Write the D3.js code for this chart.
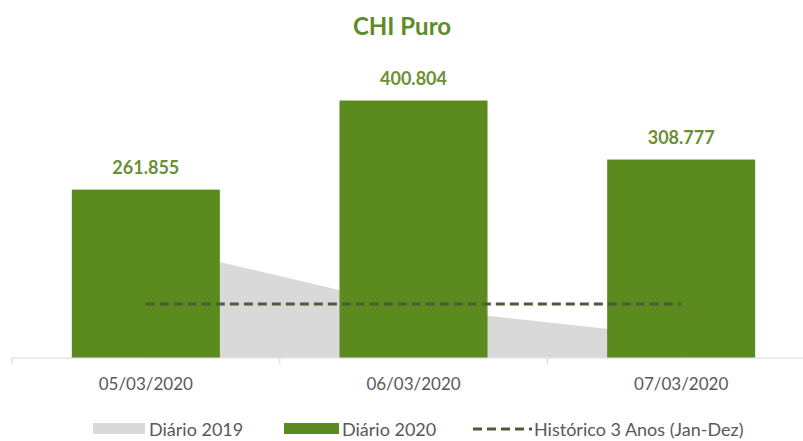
<!DOCTYPE html>
<html>
<head>
<meta charset="utf-8">
<script src="https://cdn.jsdelivr.net/npm/d3@7"></script>
<style>
  html, body { margin: 0; padding: 0; background: #fff; }
  svg { display: block; }
</style>
</head>
<body>
<div id="chart"></div>
<script>
// ── Data ──
var CATEGORIES = ['05/03/2020', '06/03/2020', '07/03/2020'];
var DIARIO_2020 = [261.855, 400.804, 308.777];
var DIARIO_2019 = [176, 78, 32];
var HISTORICO = [83.5, 83.5, 83.5];
var LABELS_2020 = ['261.855', '400.804', '308.777'];

// ── Style ──
var W = 803, H = 441;
var GREEN = '#5b8a1e';
var LABEL_GREEN = '#6b8f35';
var GRAY = '#d9d9d9';
var DASH = '#4e5a38';
var TEXT = '#595959';
var FONT = 'Lato, "Open Sans", sans-serif';

var svg = d3.select('#chart').append('svg')
  .attr('width', W)
  .attr('height', H);

var x = d3.scaleBand()
  .domain(CATEGORIES)
  .range([12, 815])
  .paddingInner(0.447)
  .paddingOuter(0.2235);

var y = d3.scaleLinear()
  .domain([0, 450])
  .range([357.5, 69]);

function cx(d) { return x(d) + x.bandwidth() / 2; }

// Title
svg.append('text')
  .attr('x', 402)
  .attr('y', 35)
  .attr('text-anchor', 'middle')
  .attr('font-family', FONT)
  .attr('font-weight', 700)
  .attr('font-size', '24px')
  .attr('fill', '#5e8a2a')
  .text('CHI Puro');

// Diário 2019 area (behind bars)
var area = d3.area()
  .x(function (d, i) { return cx(CATEGORIES[i]); })
  .y0(y(0))
  .y1(function (d) { return y(d); });

svg.append('path')
  .datum(DIARIO_2019)
  .attr('d', area)
  .attr('fill', GRAY);

// Axis line + ticks at band edges
svg.append('line')
  .attr('x1', 12).attr('x2', W)
  .attr('y1', y(0) + 0.5).attr('y2', y(0) + 0.5)
  .attr('stroke', GRAY)
  .attr('stroke-width', 1.2);

var tickXs = [12].concat(CATEGORIES.slice(1).map(function (c) {
  return x(c) - x.step() * x.paddingInner() / 2;
}));
svg.selectAll('.tick-mark')
  .data(tickXs)
  .join('line')
  .attr('class', 'tick-mark')
  .attr('x1', function (d) { return d; })
  .attr('x2', function (d) { return d; })
  .attr('y1', y(0))
  .attr('y2', y(0) + 6)
  .attr('stroke', GRAY)
  .attr('stroke-width', 1.2);

// Diário 2020 bars
svg.selectAll('.bar')
  .data(DIARIO_2020)
  .join('rect')
  .attr('class', 'bar')
  .attr('x', function (d, i) { return x(CATEGORIES[i]); })
  .attr('width', x.bandwidth())
  .attr('y', function (d) { return y(d); })
  .attr('height', function (d) { return y(0) - y(d); })
  .attr('fill', GREEN);

// Histórico dashed line
var line = d3.line()
  .x(function (d, i) { return cx(CATEGORIES[i]); })
  .y(function (d) { return y(d); });

svg.append('path')
  .datum(HISTORICO)
  .attr('d', line)
  .attr('fill', 'none')
  .attr('stroke', DASH)
  .attr('stroke-width', 3)
  .attr('stroke-dasharray', '9,5');

// Value labels
svg.selectAll('.val')
  .data(DIARIO_2020)
  .join('text')
  .attr('class', 'val')
  .attr('x', function (d, i) { return cx(CATEGORIES[i]); })
  .attr('y', function (d) { return y(d) - 16; })
  .attr('text-anchor', 'middle')
  .attr('font-family', FONT)
  .attr('font-weight', 700)
  .attr('font-size', '18px')
  .attr('fill', LABEL_GREEN)
  .text(function (d, i) { return LABELS_2020[i]; });

// Category labels
svg.selectAll('.cat')
  .data(CATEGORIES)
  .join('text')
  .attr('class', 'cat')
  .attr('x', cx)
  .attr('y', 390)
  .attr('text-anchor', 'middle')
  .attr('font-family', FONT)
  .attr('font-size', '17px')
  .attr('fill', TEXT)
  .text(function (d) { return d; });

// Legend
var legend = svg.append('g').attr('transform', 'translate(0,429)');

legend.append('rect')
  .attr('x', 93).attr('y', -6).attr('width', 52).attr('height', 11)
  .attr('fill', GRAY);
legend.append('text')
  .attr('x', 149).attr('y', 7)
  .attr('font-family', FONT).attr('font-size', '18px').attr('fill', TEXT)
  .text('Diário 2019');

legend.append('rect')
  .attr('x', 284).attr('y', -6).attr('width', 55).attr('height', 11)
  .attr('fill', GREEN);
legend.append('text')
  .attr('x', 342).attr('y', 7)
  .attr('font-family', FONT).attr('font-size', '18px').attr('fill', TEXT)
  .text('Diário 2020');

legend.append('line')
  .attr('x1', 473).attr('x2', 532).attr('y1', 0).attr('y2', 0)
  .attr('stroke', DASH).attr('stroke-width', 3)
  .attr('stroke-dasharray', '9,5');
legend.append('text')
  .attr('x', 534).attr('y', 7)
  .attr('font-family', FONT).attr('font-size', '18px').attr('fill', TEXT)
  .text('Histórico 3 Anos (Jan-Dez)');
</script>
</body>
</html>
